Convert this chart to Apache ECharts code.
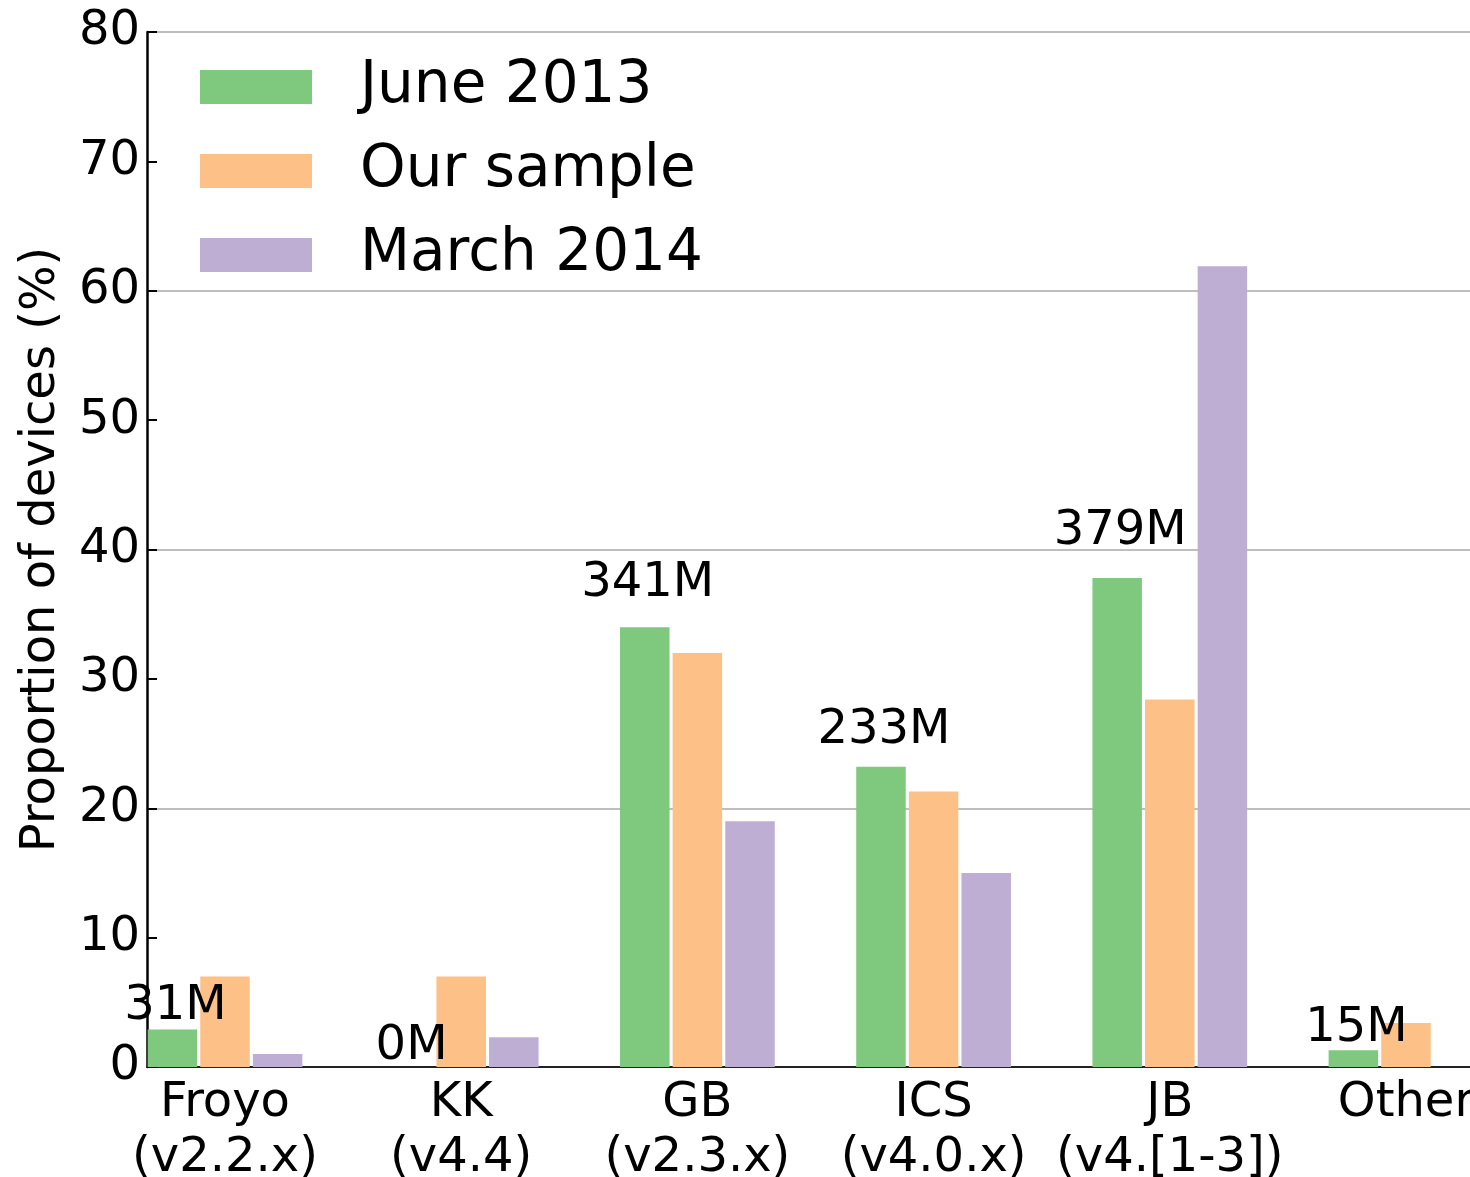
<!DOCTYPE html>
<html><head><meta charset="utf-8">
<script src="https://cdn.jsdelivr.net/npm/echarts@6/dist/echarts.min.js"></script>
<style>html,body{margin:0;padding:0;background:#fff}#c{width:1470px;height:1177px}</style>
</head><body><div id="c"></div>
<script>
const categories = ['Froyo\n(v2.2.x)', 'KK\n(v4.4)', 'GB\n(v2.3.x)', 'ICS\n(v4.0.x)', 'JB\n(v4.[1-3])', 'Other'];
const june2013 = [2.9, 0, 34.0, 23.2, 37.8, 1.3];
const ourSample = [7.0, 7.0, 32.0, 21.3, 28.4, 3.4];
const march2014 = [1.0, 2.3, 19.0, 15.0, 61.9, 0];
const deviceLabels = ['31M', '0M', '341M', '233M', '379M', '15M'];
const seriesNames = ['June 2013', 'Our sample', 'March 2014'];
const colors = ['#7fc97f', '#fdc086', '#beaed4'];
const xTickValues = [0, 1, 2, 3, 4, 5];

const FONT = 'DejaVu Sans';
const chart = echarts.init(document.getElementById('c'), null, {renderer: 'canvas'});

function pairs(arr) { return arr.map((v, i) => [i, v]); }

const greenData = june2013.map((v, i) => ({
  value: [i, v],
  label: {distance: 0.688 * v}
}));

const barCommon = {type: 'bar', barWidth: 49.5, barGap: '6.3%'};

chart.setOption({
  animation: false,
  backgroundColor: '#fff',
  textStyle: {fontFamily: FONT},
  grid: {left: 147, right: 0, top: 32, bottom: 110, outerBoundsMode: 'none'},
  legend: {
    orient: 'vertical', left: 200, top: 52, padding: 0,
    itemWidth: 112, itemHeight: 34, itemGap: 14, icon: 'rect',
    data: seriesNames,
    textStyle: {fontSize: 58, lineHeight: 58, color: '#000', fontFamily: FONT, padding: [12, 0, 0, 43]}
  },
  xAxis: {
    type: 'value', min: -0.3302, max: 5.271,
    axisLine: {show: true, onZero: false, lineStyle: {color: '#222', width: 2}},
    axisTick: {show: false},
    splitLine: {show: false},
    axisLabel: {
      customValues: xTickValues,
      formatter: v => categories[Math.round(v)],
      fontSize: 48, lineHeight: 55, margin: 9, color: '#000', fontFamily: FONT
    }
  },
  yAxis: [{
    type: 'value', min: 0, max: 80, interval: 10,
    name: 'Proportion of devices (%)', nameLocation: 'middle', nameGap: 81,
    nameTextStyle: {fontSize: 48, color: '#000', fontFamily: FONT, lineHeight: 48},
    axisLine: {show: true, onZero: false, lineStyle: {color: '#000', width: 2.5}},
    axisTick: {show: true, inside: true, length: 10, lineStyle: {color: '#000', width: 2}},
    axisLabel: {fontSize: 48, color: '#000', margin: 7, fontFamily: FONT},
    splitLine: {show: false}
  }, {
    type: 'value', min: 0, max: 80, interval: 20, position: 'left',
    axisLine: {show: false, onZero: false}, axisTick: {show: false}, axisLabel: {show: false},
    splitLine: {show: true, showMinLine: false, lineStyle: {color: '#bebebe', width: 2}}
  }],
  series: [
    Object.assign({}, barCommon, {
      name: seriesNames[0], data: greenData, itemStyle: {color: colors[0]},
      label: {show: true, position: 'top', offset: [3, 3.5], formatter: p => deviceLabels[p.dataIndex],
        fontSize: 48, lineHeight: 48, color: '#000', fontFamily: FONT}
    }),
    Object.assign({}, barCommon, {name: seriesNames[1], data: pairs(ourSample), itemStyle: {color: colors[1]}}),
    Object.assign({}, barCommon, {name: seriesNames[2], data: pairs(march2014), itemStyle: {color: colors[2]}})
  ]
});
</script></body></html>
